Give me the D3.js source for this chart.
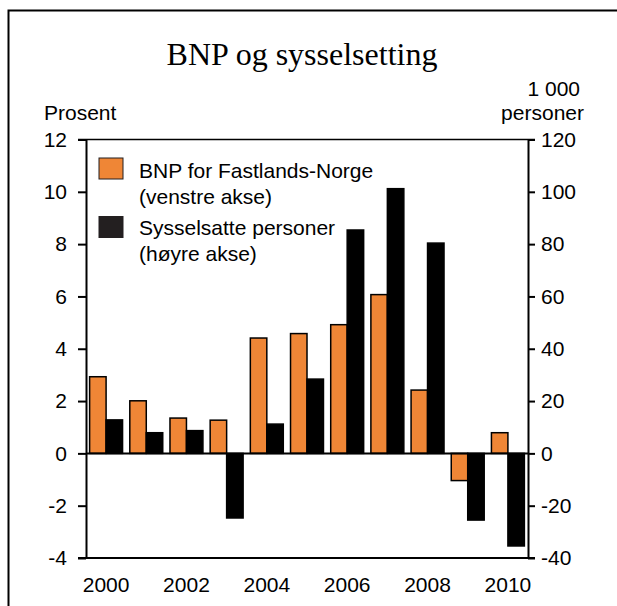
<!DOCTYPE html>
<html>
<head>
<meta charset="utf-8">
<script src="https://cdn.jsdelivr.net/npm/d3@7"></script>
<style>
  body { margin: 0; background: #fff; }
  text { font-family: "Liberation Sans", Arial, sans-serif; fill: #000; }
</style>
</head>
<body>
<div id="chart"></div>
<script>
const years = [2000, 2001, 2002, 2003, 2004, 2005, 2006, 2007, 2008, 2009, 2010];
const bnp = [2.93, 2.01, 1.35, 1.27, 4.41, 4.58, 4.92, 6.07, 2.42, -1.04, 0.79];
const sysselsatte = [12.8, 7.9, 8.7, -24.7, 11.2, 28.4, 85.4, 101.2, 80.4, -25.5, -35.4];
const leftTicks = [-4, -2, 0, 2, 4, 6, 8, 10, 12];
const rightTicks = [-40, -20, 0, 20, 40, 60, 80, 100, 120];
const xLabels = [2000, 2002, 2004, 2006, 2008, 2010];

const W = 617, H = 606;
const m = { left: 86, right: 528, top: 139.5, bottom: 558 };
const FS = "21px";

const svg = d3.select("#chart").append("svg")
  .attr("width", W).attr("height", H);

// outer frame, cut off at right and bottom
svg.append("path")
  .attr("d", "M8.5,606 L8.5,10.5 L617,10.5")
  .attr("fill", "none").attr("stroke", "#000").attr("stroke-width", 2);

svg.append("text")
  .attr("x", 302).attr("y", 65)
  .attr("text-anchor", "middle")
  .style("font-family", "'Liberation Serif', 'Times New Roman', serif")
  .style("font-size", "32px")
  .text("BNP og sysselsetting");

const x = d3.scaleBand().domain(years).range([m.left, m.right]).paddingInner(0.18).paddingOuter(0.09);
const yL = d3.scaleLinear().domain([-4, 12]).range([m.bottom, m.top]);
const yR = d3.scaleLinear().domain([-40, 120]).range([m.bottom, m.top]);

const bw = x.bandwidth() / 2;

// axis titles
svg.append("text").attr("x", 44).attr("y", 120).style("font-size", FS).text("Prosent");
svg.append("text").attr("x", 580).attr("y", 96).attr("text-anchor", "end").style("font-size", FS).text("1 000");
svg.append("text").attr("x", 584).attr("y", 120).attr("text-anchor", "end").style("font-size", FS).text("personer");

// bars
const g = svg.append("g");
g.selectAll("rect.bnp").data(years).join("rect")
  .attr("class", "bnp")
  .attr("x", d => x(d))
  .attr("width", bw)
  .attr("y", (d, i) => Math.min(yL(bnp[i]), yL(0)))
  .attr("height", (d, i) => Math.abs(yL(bnp[i]) - yL(0)))
  .attr("fill", "#ef8636").attr("stroke", "#000").attr("stroke-width", 1.5);

g.selectAll("rect.sys").data(years).join("rect")
  .attr("class", "sys")
  .attr("x", d => x(d) + bw)
  .attr("width", bw)
  .attr("y", (d, i) => Math.min(yR(sysselsatte[i]), yR(0)))
  .attr("height", (d, i) => Math.abs(yR(sysselsatte[i]) - yR(0)))
  .attr("fill", "#000").attr("stroke", "#000").attr("stroke-width", 1.5);

// zero line
svg.append("line")
  .attr("x1", m.left).attr("x2", m.right)
  .attr("y1", yL(0)).attr("y2", yL(0))
  .attr("stroke", "#000").attr("stroke-width", 2);

// top and bottom lines
[m.top, m.bottom].forEach(yy => {
  svg.append("line")
    .attr("x1", m.left - 8).attr("x2", m.right + 7)
    .attr("y1", yy).attr("y2", yy)
    .attr("stroke", "#000").attr("stroke-width", yy === m.top ? 1.5 : 2);
});

// left axis
const axL = svg.append("g").attr("transform", `translate(${m.left},0)`)
  .call(d3.axisLeft(yL).tickValues(leftTicks).tickFormat(d => d).tickSize(8).tickPadding(11).tickSizeOuter(0));
axL.select(".domain").attr("stroke-width", 2);
axL.selectAll(".tick line").attr("stroke-width", 2);
axL.selectAll("text").style("font-size", FS).style("font-family", "'Liberation Sans', Arial, sans-serif");

// right axis
const axR = svg.append("g").attr("transform", `translate(${m.right},0)`)
  .call(d3.axisRight(yR).tickValues(rightTicks).tickFormat(d => d).tickSize(7).tickPadding(6).tickSizeOuter(0));
axR.select(".domain").attr("stroke-width", 2);
axR.selectAll(".tick line").attr("stroke-width", 2);
axR.selectAll("text").style("font-size", FS).style("font-family", "'Liberation Sans', Arial, sans-serif");

// x labels
svg.append("g").selectAll("text").data(xLabels).join("text")
  .attr("x", d => x(d) + x.bandwidth() / 2)
  .attr("y", 592)
  .attr("text-anchor", "middle")
  .style("font-size", FS)
  .text(d => d);

// legend
const legend = [
  { color: "#ef8636", lines: ["BNP for Fastlands-Norge", "(venstre akse)"], y: 158, base: [178, 204] },
  { color: "#231f20", lines: ["Sysselsatte personer", "(høyre akse)"], y: 216.5, base: [235, 261] }
];
const lg = svg.append("g");
legend.forEach(l => {
  lg.append("rect").attr("x", 99).attr("y", l.y).attr("width", 24).attr("height", 21)
    .attr("fill", l.color).attr("stroke", "#231f20").attr("stroke-width", 1);
  l.lines.forEach((t, i) => {
    lg.append("text").attr("x", 139).attr("y", l.base[i])
      .style("font-size", FS).text(t);
  });
});
</script>
</body>
</html>
